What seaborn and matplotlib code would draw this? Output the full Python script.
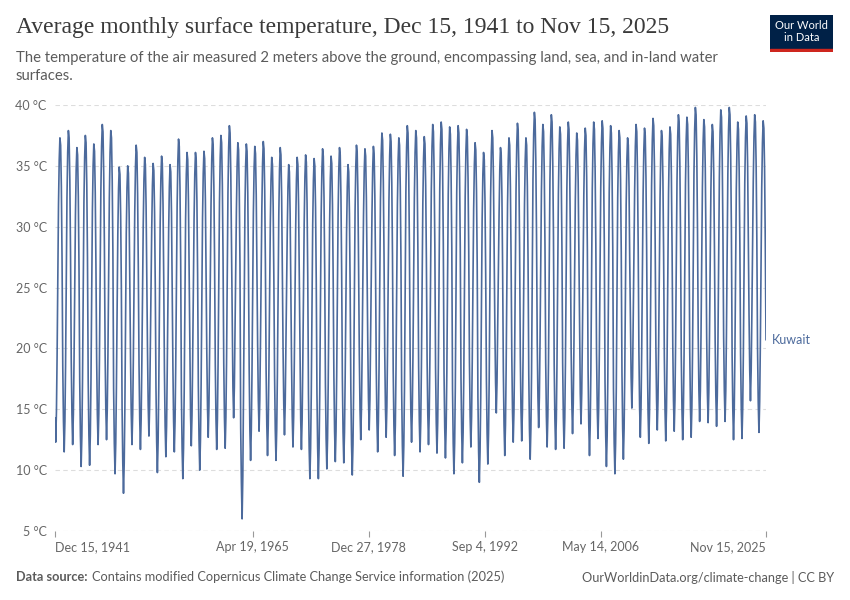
import pandas as pd
import seaborn as sns
import matplotlib.pyplot as plt
from matplotlib.patches import Rectangle

sns.set_theme(style="white")
plt.rcParams["font.family"] = ["Lato", "DejaVu Sans"]

# Monthly surface temperature for Kuwait (°C).
# Each row is Jan..Dec of one year; the series starts Dec 1941 and ends Nov 2025.
temps_1941 = [14.3]
temps_1940s = [
    [12.3, 14.8, 19.3, 25.8, 31.8, 35.5, 37.3, 36.7, 33.3, 27.3, 18.5, 14.0],
    [11.5, 14.0, 18.5, 25.7, 32.4, 36.1, 37.9, 37.3, 33.9, 27.9, 19.1, 14.6],
    [12.1, 14.6, 19.1, 25.3, 31.0, 34.7, 36.5, 35.9, 32.5, 26.5, 17.3, 12.8],
    [10.3, 12.8, 17.3, 24.9, 32.0, 35.7, 37.5, 36.9, 33.5, 27.5, 17.4, 12.9],
    [10.4, 12.9, 17.4, 24.6, 31.3, 35.0, 36.8, 36.2, 32.8, 26.8, 19.1, 14.6],
    [12.1, 14.6, 19.1, 26.3, 32.9, 36.6, 38.4, 37.8, 34.4, 28.4, 19.5, 15.0],
    [12.5, 15.0, 19.5, 26.2, 32.4, 36.1, 37.9, 37.3, 33.9, 27.9, 16.7, 12.2],
    [9.7, 12.2, 16.7, 23.3, 29.4, 33.1, 34.9, 34.3, 30.9, 24.9, 15.1, 10.6],
]
temps_1950s = [
    [8.1, 10.6, 15.1, 22.6, 29.5, 33.2, 35.0, 34.4, 31.0, 25.0, 19.1, 14.6],
    [12.1, 14.6, 19.1, 25.4, 31.2, 34.9, 36.7, 36.1, 32.7, 26.7, 18.7, 14.2],
    [11.7, 14.2, 18.7, 24.7, 30.2, 33.9, 35.7, 35.1, 31.7, 25.7, 19.8, 15.3],
    [12.8, 15.3, 19.8, 25.0, 29.7, 33.4, 35.2, 34.6, 31.2, 25.2, 16.8, 12.3],
    [9.8, 12.3, 16.8, 23.8, 30.3, 34.0, 35.8, 35.2, 31.8, 25.8, 18.1, 13.6],
    [11.1, 13.6, 18.1, 24.1, 29.6, 33.3, 35.1, 34.5, 31.1, 25.1, 18.5, 14.0],
    [11.5, 14.0, 18.5, 25.4, 31.7, 35.4, 37.2, 36.6, 33.2, 27.2, 16.3, 11.8],
    [9.3, 11.8, 16.3, 23.7, 30.6, 34.3, 36.1, 35.5, 32.1, 26.1, 19.0, 14.5],
    [12.0, 14.5, 19.0, 25.1, 30.6, 34.3, 36.1, 35.5, 32.1, 26.1, 17.0, 12.5],
    [10.0, 12.5, 17.0, 24.1, 30.7, 34.4, 36.2, 35.6, 32.2, 26.2, 19.7, 15.2],
]
temps_1960s = [
    [12.7, 15.2, 19.7, 26.0, 31.8, 35.5, 37.3, 36.7, 33.3, 27.3, 18.7, 14.2],
    [11.7, 14.2, 18.7, 25.6, 32.0, 35.7, 37.5, 36.9, 33.5, 27.5, 18.8, 14.3],
    [11.8, 14.3, 18.8, 26.1, 32.8, 36.5, 38.3, 37.7, 34.3, 28.3, 21.3, 16.8],
    [14.3, 16.8, 21.3, 26.6, 31.4, 35.1, 36.9, 36.3, 32.9, 26.9, 13.5, 9.0],
    [6.0, 9.5, 16.0, 23.4, 31.3, 35.0, 36.8, 36.2, 32.8, 26.8, 18.3, 13.3],
    [10.8, 13.3, 17.8, 24.7, 31.1, 34.8, 36.6, 36.0, 32.6, 26.6, 20.2, 15.7],
    [13.2, 15.7, 20.2, 26.1, 31.5, 35.2, 37.0, 36.4, 33.0, 27.0, 18.2, 13.7],
    [11.2, 13.7, 18.2, 24.5, 30.2, 33.9, 35.7, 35.1, 31.7, 25.7, 17.8, 13.3],
    [10.8, 13.3, 17.8, 24.7, 31.0, 34.7, 36.5, 35.9, 32.5, 26.5, 19.9, 15.4],
    [12.9, 15.4, 19.9, 25.0, 29.6, 33.3, 35.1, 34.5, 31.1, 25.1, 18.9, 14.4],
]
temps_1970s = [
    [11.9, 14.4, 18.9, 24.8, 30.2, 33.9, 35.7, 35.1, 31.7, 25.7, 18.7, 14.2],
    [11.7, 14.2, 18.7, 24.8, 30.4, 34.1, 35.9, 35.3, 31.9, 25.9, 16.3, 11.8],
    [9.3, 11.8, 16.3, 23.5, 30.1, 33.8, 35.6, 35.0, 31.6, 25.6, 16.3, 11.8],
    [9.3, 11.8, 16.3, 23.9, 30.9, 34.6, 36.4, 35.8, 32.4, 26.4, 17.1, 12.6],
    [10.1, 12.6, 17.1, 24.0, 30.3, 34.0, 35.8, 35.2, 31.8, 25.8, 17.7, 13.2],
    [10.7, 13.2, 17.7, 24.6, 31.0, 34.7, 36.5, 35.9, 32.5, 26.5, 17.6, 13.1],
    [10.6, 13.1, 17.6, 23.9, 29.6, 33.3, 35.1, 34.5, 31.1, 25.1, 16.6, 12.1],
    [9.6, 12.1, 16.6, 24.2, 31.2, 34.9, 36.7, 36.1, 32.7, 26.7, 19.5, 15.0],
    [12.5, 15.0, 19.5, 25.5, 30.9, 34.6, 36.4, 35.8, 32.4, 26.4, 20.3, 15.8],
    [13.3, 15.8, 20.3, 26.0, 31.1, 34.8, 36.6, 36.0, 32.6, 26.6, 18.5, 14.0],
]
temps_1980s = [
    [11.5, 14.0, 18.5, 25.6, 32.2, 35.9, 37.7, 37.1, 33.7, 27.7, 19.7, 15.2],
    [12.7, 15.2, 19.7, 26.2, 32.1, 35.8, 37.6, 37.0, 33.6, 27.6, 18.2, 13.7],
    [11.2, 13.7, 18.2, 25.3, 31.8, 35.5, 37.3, 36.7, 33.3, 27.3, 16.5, 12.0],
    [9.5, 12.0, 16.5, 24.9, 32.8, 36.5, 38.3, 37.7, 34.3, 28.3, 19.3, 14.8],
    [12.3, 14.8, 19.3, 26.1, 32.4, 36.1, 37.9, 37.3, 33.9, 27.9, 18.5, 14.0],
    [11.5, 14.0, 18.5, 25.5, 31.9, 35.6, 37.4, 36.8, 33.4, 27.4, 19.1, 14.6],
    [12.1, 14.6, 19.1, 26.3, 32.9, 36.6, 38.4, 37.8, 34.4, 28.4, 18.4, 13.9],
    [11.4, 13.9, 18.4, 26.0, 33.1, 36.8, 38.6, 38.0, 34.6, 28.6, 18.0, 13.5],
    [11.0, 13.5, 18.0, 25.6, 32.7, 36.4, 38.2, 37.6, 34.2, 28.2, 16.7, 12.2],
    [9.7, 12.2, 16.7, 25.0, 32.8, 36.5, 38.3, 37.7, 34.3, 28.3, 17.6, 13.1],
]
temps_1990s = [
    [10.6, 13.1, 17.6, 25.3, 32.5, 36.2, 38.0, 37.4, 34.0, 28.0, 18.9, 14.4],
    [11.9, 14.4, 18.9, 25.4, 31.4, 35.1, 36.9, 36.3, 32.9, 26.9, 16.0, 11.5],
    [9.0, 11.5, 16.0, 23.6, 30.6, 34.3, 36.1, 35.5, 32.1, 26.1, 17.5, 13.0],
    [10.5, 13.0, 17.5, 25.2, 32.4, 36.1, 37.9, 37.3, 33.9, 27.9, 21.7, 17.2],
    [14.7, 17.2, 21.7, 26.6, 31.0, 34.7, 36.5, 35.9, 32.5, 26.5, 18.2, 13.7],
    [11.2, 13.7, 18.2, 25.3, 31.8, 35.5, 37.3, 36.7, 33.3, 27.3, 19.3, 14.8],
    [12.3, 14.8, 19.3, 26.4, 33.0, 36.7, 38.5, 37.9, 34.5, 28.5, 19.4, 14.9],
    [12.4, 14.9, 19.4, 25.9, 31.8, 35.5, 37.3, 36.7, 33.3, 27.3, 17.9, 13.4],
    [10.9, 13.4, 17.9, 26.2, 33.9, 37.6, 39.4, 38.8, 35.4, 29.4, 20.5, 16.0],
    [13.5, 16.0, 20.5, 27.0, 32.9, 36.6, 38.4, 37.8, 34.4, 28.4, 18.9, 14.4],
]
temps_2000s = [
    [11.9, 14.4, 18.9, 26.6, 33.7, 37.4, 39.2, 38.6, 35.2, 29.2, 18.7, 14.2],
    [11.7, 14.2, 18.7, 26.0, 32.7, 36.4, 38.2, 37.6, 34.2, 28.2, 18.8, 14.3],
    [11.8, 14.3, 18.8, 26.2, 33.1, 36.8, 38.6, 38.0, 34.6, 28.6, 20.0, 15.5],
    [13.0, 15.5, 20.0, 26.4, 32.2, 35.9, 37.7, 37.1, 33.7, 27.7, 20.8, 16.3],
    [13.8, 16.3, 20.8, 27.0, 32.6, 36.3, 38.1, 37.5, 34.1, 28.1, 18.2, 13.7],
    [11.2, 13.7, 18.2, 25.9, 33.1, 36.8, 38.6, 38.0, 34.6, 28.6, 19.6, 15.1],
    [12.6, 15.1, 19.6, 26.7, 33.2, 36.9, 38.7, 38.1, 34.7, 28.7, 17.3, 12.8],
    [10.3, 12.8, 17.3, 25.3, 32.8, 36.5, 38.3, 37.7, 34.3, 28.3, 16.7, 12.2],
    [9.7, 12.2, 16.7, 24.8, 32.4, 36.1, 37.9, 37.3, 33.9, 27.9, 17.9, 13.4],
    [10.9, 13.4, 17.9, 25.1, 31.8, 35.5, 37.3, 36.7, 33.3, 27.3, 22.1, 17.6],
]
temps_2010s = [
    [15.1, 17.6, 22.1, 27.8, 32.9, 36.6, 38.4, 37.8, 34.4, 28.4, 19.7, 15.2],
    [12.7, 15.2, 19.7, 26.4, 32.6, 36.3, 38.1, 37.5, 34.1, 28.1, 19.2, 14.7],
    [12.2, 14.7, 19.2, 26.6, 33.4, 37.1, 38.9, 38.3, 34.9, 28.9, 20.3, 15.8],
    [13.3, 15.8, 20.3, 26.6, 32.4, 36.1, 37.9, 37.3, 33.9, 27.9, 19.4, 14.9],
    [12.4, 14.9, 19.4, 26.3, 32.7, 36.4, 38.2, 37.6, 34.2, 28.2, 20.2, 15.7],
    [13.2, 15.7, 20.2, 27.2, 33.7, 37.4, 39.2, 38.6, 35.2, 29.2, 19.5, 15.0],
    [12.5, 15.0, 19.5, 26.8, 33.5, 37.2, 39.0, 38.4, 35.0, 29.0, 19.7, 15.2],
    [12.7, 15.2, 19.7, 27.3, 34.3, 38.0, 39.8, 39.2, 35.8, 29.8, 21.0, 16.5],
    [14.0, 16.5, 21.0, 27.4, 33.3, 37.0, 38.8, 38.2, 34.8, 28.8, 20.9, 16.4],
    [13.9, 16.4, 20.9, 27.2, 32.9, 36.6, 38.4, 37.8, 34.4, 28.4, 20.6, 16.1],
]
temps_2020s = [
    [13.6, 16.1, 20.6, 27.6, 34.1, 37.8, 39.6, 39.0, 35.6, 29.6, 21.0, 16.5],
    [14.0, 16.5, 21.0, 27.9, 34.3, 38.0, 39.8, 39.2, 35.8, 29.8, 19.5, 15.0],
    [12.5, 15.0, 19.5, 26.6, 33.1, 36.8, 38.6, 38.0, 34.6, 28.6, 19.6, 15.1],
    [12.6, 15.1, 19.6, 26.9, 33.6, 37.3, 39.1, 38.5, 35.1, 29.1, 22.7, 18.2],
    [15.7, 18.2, 22.7, 28.5, 33.7, 37.4, 39.2, 38.6, 35.2, 29.2, 20.1, 15.6],
    [13.1, 15.6, 20.1, 26.9, 33.2, 36.9, 38.7, 38.1, 34.7, 28.7, 20.7],
]

y_ticks = [5, 10, 15, 20, 25, 30, 35, 40]
x_tick_dates = ["1941-12-15", "1965-04-19", "1978-12-27", "1992-09-04", "2006-05-14", "2025-11-15"]
x_tick_labels = ["Dec 15, 1941", "Apr 19, 1965", "Dec 27, 1978", "Sep 4, 1992", "May 14, 2006", "Nov 15, 2025"]

title = "Average monthly surface temperature, Dec 15, 1941 to Nov 15, 2025"
subtitle = ("The temperature of the air measured 2 meters above the ground, encompassing land, sea, and in-land water\n"
            "surfaces.")

# Flatten into one series
values = list(temps_1941)
for decade in [temps_1940s, temps_1950s, temps_1960s, temps_1970s, temps_1980s,
               temps_1990s, temps_2000s, temps_2010s, temps_2020s]:
    for row in decade:
        values.extend(row)

dates = pd.date_range("1941-12-01", periods=len(values), freq="MS") + pd.Timedelta(days=14)
df = pd.DataFrame({"date": dates, "temp": values})

line_color = "#4c6a9c"
grey = "#5b5b5b"

fig = plt.figure(figsize=(8.5, 6), dpi=100)
ax = fig.add_axes([55 / 850, 1 - 531 / 600, (766 - 55) / 850, (531 - 105) / 600])

sns.lineplot(data=df, x="date", y="temp", color=line_color, linewidth=1.2, ax=ax)

ax.set_xlim(dates[0], dates[-1])
ax.set_ylim(5, 40)
ax.set_xlabel("")
ax.set_ylabel("")

ax.set_yticks(y_ticks)
ax.set_yticklabels([f"{v} °C" for v in y_ticks])
ax.set_xticks(pd.to_datetime(x_tick_dates))
ax.set_xticklabels(x_tick_labels)
xlabels = ax.get_xticklabels()
xlabels[0].set_ha("left")
xlabels[-1].set_ha("right")

ax.grid(axis="y", color="#dddddd", linestyle=(0, (4, 3)), linewidth=0.8)
ax.grid(axis="x", visible=False)
for s in ax.spines.values():
    s.set_visible(False)
ax.tick_params(axis="y", length=0, pad=6, labelsize=9, labelcolor="#666666")
ax.tick_params(axis="x", length=4, width=0.8, color="#999999", pad=3,
               labelsize=9, labelcolor="#666666", bottom=True)

ax.annotate("Kuwait", xy=(dates[-1], values[-1]), xytext=(4, 0), textcoords="offset points",
            va="center", ha="left", fontsize=9, color=line_color, annotation_clip=False)

# Header
fig.text(16 / 850, 1 - 28 / 600, title, fontsize=17, va="center", ha="left",
         color="#3a3a3a", family=["Liberation Serif", "DejaVu Serif"])
fig.text(16 / 850, 1 - 67 / 600, subtitle, fontsize=10.7, va="center", ha="left",
         color=grey, linespacing=1.35)

# Logo
logo_ax = fig.add_axes([770 / 850, 1 - 52 / 600, 63 / 850, 37 / 600])
logo_ax.set_xlim(0, 1)
logo_ax.set_ylim(0, 1)
logo_ax.axis("off")
logo_ax.add_patch(Rectangle((0, 0.08), 1, 0.92, color="#002147"))
logo_ax.add_patch(Rectangle((0, 0), 1, 0.08, color="#ce261e"))
logo_ax.text(0.5, 0.55, "Our World\nin Data", color="white", fontsize=8,
             ha="center", va="center", linespacing=1.1)

# Footer
src = fig.text(16 / 850, 1 - 577 / 600, "Data source:", fontsize=9.2, fontweight="bold",
               color=grey, va="center", ha="left")
fig.canvas.draw()
bb = src.get_window_extent(renderer=fig.canvas.get_renderer())
fig.text((bb.x1 + 4) / 850, 1 - 577 / 600,
         "Contains modified Copernicus Climate Change Service information (2025)",
         fontsize=9.2, color=grey, va="center", ha="left")
fig.text(834 / 850, 1 - 577 / 600, "OurWorldinData.org/climate-change | CC BY",
         fontsize=9.2, color=grey, va="center", ha="right")

fig.savefig("out.png", dpi=100)
